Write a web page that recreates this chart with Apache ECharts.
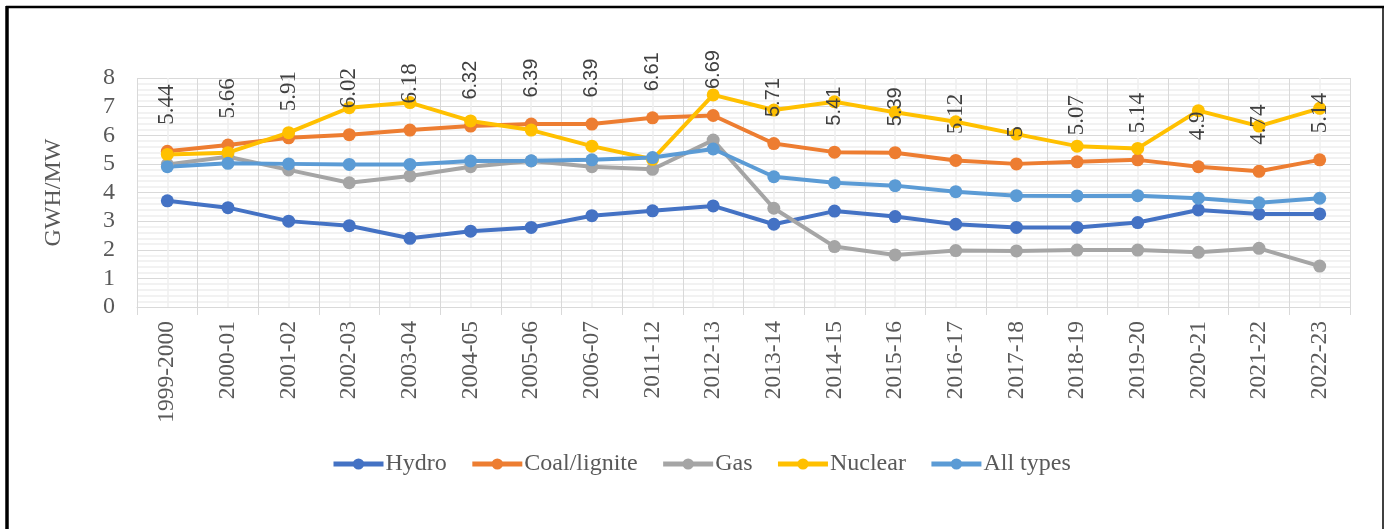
<!DOCTYPE html>
<html>
<head>
<meta charset="utf-8">
<script src="https://cdn.jsdelivr.net/npm/echarts@6/dist/echarts.min.js"></script>
<style>
  html, body { margin: 0; padding: 0; background: #fff; }
  #chart { width: 1384px; height: 529px; }
</style>
</head>
<body>
<div id="chart"></div>
<script>
// values
const categories = ["1999-2000", "2000-01", "2001-02", "2002-03", "2003-04", "2004-05", "2005-06", "2006-07",
  "2011-12", "2012-13", "2013-14", "2014-15", "2015-16", "2016-17", "2017-18", "2018-19", "2019-20",
  "2020-21", "2021-22", "2022-23"];
const hydro = [3.71, 3.47, 3.0, 2.84, 2.4, 2.65, 2.78, 3.19, 3.36, 3.53, 2.89, 3.35, 3.16, 2.89, 2.78, 2.78, 2.95, 3.39, 3.25, 3.25];
const coalLignite = [5.44, 5.66, 5.91, 6.02, 6.18, 6.32, 6.39, 6.39, 6.61, 6.69, 5.71, 5.41, 5.39, 5.12, 5, 5.07, 5.14, 4.9, 4.74, 5.14];
const gas = [4.98, 5.25, 4.79, 4.34, 4.58, 4.9, 5.1, 4.9, 4.81, 5.83, 3.45, 2.11, 1.82, 1.97, 1.96, 1.99, 1.99, 1.91, 2.05, 1.43];
const nuclear = [5.33, 5.39, 6.09, 6.96, 7.14, 6.5, 6.18, 5.62, 5.16, 7.41, 6.88, 7.17, 6.8, 6.47, 6.04, 5.62, 5.54, 6.86, 6.32, 6.94];
const allTypes = [4.9, 5.02, 5.0, 4.98, 4.98, 5.1, 5.11, 5.14, 5.22, 5.52, 4.55, 4.34, 4.24, 4.03, 3.89, 3.88, 3.89, 3.8, 3.64, 3.8];
const yTicks = [0, 1, 2, 3, 4, 5, 6, 7, 8];

const serif = "'Liberation Serif', 'DejaVu Serif', serif";
const sans = "'Liberation Sans', Arial, sans-serif";
const textGrey = "#595959";
const gridGrey = "#d9d9d9";

const chart = echarts.init(document.getElementById("chart"));

function lineSeries(name, data, color) {
  return {
    name: name,
    type: "line",
    data: data,
    symbol: "circle",
    symbolSize: 13,
    lineStyle: { width: 4, color: color },
    itemStyle: { color: color },
    emphasis: { disabled: true },
  };
}

// some of the coal labels are set in a sans face in the picture
const coalData = coalLignite.map((v, i) => {
  if (i >= 5 && i <= 12) {
    return { value: v, label: { fontFamily: sans, fontSize: 20 } };
  }
  return v;
});

const coalSeries = lineSeries("Coal/lignite", coalData, "#ED7D31");
coalSeries.label = {
  show: true,
  position: "top",
  rotate: 90,
  align: "left",
  verticalAlign: "middle",
  distance: 20,
  fontFamily: serif,
  fontSize: 23,
  color: "#404040",
};

const option = {
  animation: false,
  backgroundColor: "#fff",
  textStyle: { fontFamily: serif },
  grid: { left: 137, top: 78, right: 34, bottom: 222 },
  legend: {
    left: 326,
    top: 447,
    itemWidth: 50,
    itemHeight: 14,
    itemGap: 23,
    lineStyle: { width: 5 },
    textStyle: { fontFamily: serif, fontSize: 24, color: textGrey, padding: [0, 0, 0, -3] },
    data: ["Hydro", "Coal/lignite", "Gas", "Nuclear", "All types"],
  },
  xAxis: [
    {
      type: "category",
      data: categories,
      boundaryGap: true,
      axisLine: { lineStyle: { color: gridGrey, width: 1 } },
      axisTick: { show: true, length: 8, lineStyle: { color: gridGrey } },
      splitLine: { show: false },
      axisLabel: {
        rotate: 90,
        margin: 14,
        fontFamily: serif,
        fontSize: 23.5,
        color: textGrey,
        interval: 0,
      },
    },
    {
      // only used to draw the vertical grid: boundaries + lighter lines at the category centres
      type: "value",
      min: 0,
      max: categories.length,
      interval: 1,
      position: "bottom",
      axisLine: { show: false },
      axisTick: { show: false },
      axisLabel: { show: false },
      splitLine: { show: true, lineStyle: { color: gridGrey, width: 1 } },
      minorTick: { show: false, splitNumber: 2 },
      minorSplitLine: { show: true, lineStyle: { color: "#efefef", width: 1.5 } },
    },
  ],
  yAxis: {
    type: "value",
    min: yTicks[0],
    max: yTicks[yTicks.length - 1],
    interval: 1,
    name: "GWH/MW",
    nameLocation: "middle",
    nameRotate: 90,
    nameGap: 71,
    nameTextStyle: { fontFamily: serif, fontSize: 24, color: textGrey },
    axisLine: { show: false },
    axisTick: { show: false },
    axisLabel: { margin: 22, fontFamily: serif, fontSize: 24, color: textGrey },
    splitLine: { show: true, lineStyle: { color: gridGrey, width: 1 } },
    minorTick: { show: false, splitNumber: 5 },
    minorSplitLine: { show: true, lineStyle: { color: "#eeeeee", width: 1.5 } },
  },
  series: [
    lineSeries("Hydro", hydro, "#4472C4"),
    coalSeries,
    lineSeries("Gas", gas, "#A5A5A5"),
    lineSeries("Nuclear", nuclear, "#FFC000"),
    lineSeries("All types", allTypes, "#5B9BD5"),
  ],
  graphic: [
    // frame round the picture
    { type: "line", shape: { x1: 6, y1: 7, x2: 1384, y2: 7 }, style: { stroke: "#000", lineWidth: 2.5 } },
    { type: "line", shape: { x1: 7, y1: 6, x2: 7, y2: 529 }, style: { stroke: "#000", lineWidth: 3.5 } },
    { type: "line", shape: { x1: 1383, y1: 6, x2: 1383, y2: 529 }, style: { stroke: "#000", lineWidth: 1.5 } },
  ],
};

chart.setOption(option);
</script>
</body>
</html>
